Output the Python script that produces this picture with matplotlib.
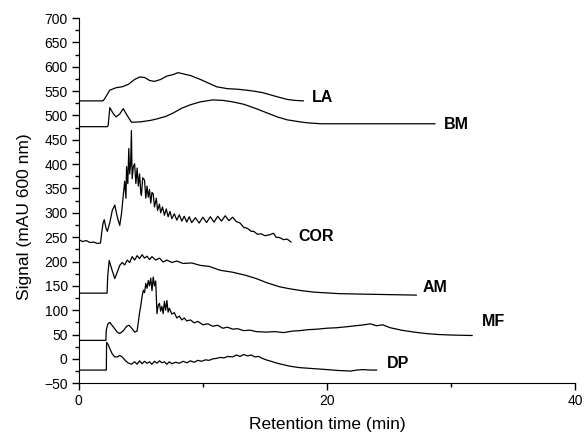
import matplotlib.pyplot as plt
from matplotlib.ticker import MultipleLocator

plt.rcParams['font.family'] = ['Liberation Sans', 'DejaVu Sans']

# ---- chromatogram traces (retention time in min, signal in mAU) ----
la_t = [0, 1.95, 2.1, 2.5, 3.0, 3.5, 4.0, 4.5, 4.9, 5.3, 5.7, 6.1, 6.6, 7.1, 7.6, 8.0,
        8.5, 9.0, 9.8, 10.5, 11.1, 12.0, 12.8, 13.5, 14.1, 14.8, 15.5, 16.2, 16.8, 17.4, 18.1]
la_s = [530, 530, 535, 552, 557, 559, 564, 574, 579, 578, 572, 570, 574, 581, 584, 588,
        585, 582, 574, 566, 559, 555, 554, 552, 550, 547, 542, 537, 533, 531, 530]

bm_t = [0, 2.3, 2.37, 2.5, 2.75, 3.0, 3.3, 3.58, 3.9, 4.25, 5.0, 5.8, 6.3, 7.0, 7.6, 8.3,
        9.0, 9.8, 10.8, 11.6, 12.4, 13.3, 14.3, 15.2, 16.0, 16.8, 17.8, 18.4, 19.5, 21, 24, 26.5, 28.7]
bm_s = [477, 477, 480, 516, 505, 497, 503, 514, 500, 486, 487, 490, 493, 498, 505, 515,
        522, 528, 532, 531, 528, 523, 514, 505, 497, 491, 487, 485, 483, 483, 483, 483, 483]

cor_t = [0, 0.3, 0.6, 0.9, 1.2, 1.5, 1.75, 1.85, 1.95, 2.05, 2.2, 2.3, 2.5, 2.7, 2.9, 3.1,
         3.3, 3.45, 3.6, 3.7, 3.8, 3.85, 3.95, 4.03, 4.1, 4.18, 4.24, 4.3, 4.4, 4.5, 4.6, 4.7,
         4.8, 4.9, 5.0, 5.05, 5.15, 5.3, 5.4, 5.5, 5.6, 5.7, 5.8, 5.9, 6.0, 6.1, 6.25, 6.35,
         6.5, 6.6, 6.75, 6.9, 7.05, 7.2, 7.35, 7.5, 7.7, 7.9, 8.1, 8.3, 8.5, 8.7, 8.9, 9.1,
         9.4, 9.7, 10.0, 10.3, 10.6, 10.9, 11.2, 11.5, 11.8, 12.1, 12.4, 12.7, 13.0, 13.3,
         13.6, 13.9, 14.1, 14.4, 14.7, 15.0, 15.4, 15.7, 15.9, 16.2, 16.5, 16.8, 17.1]
cor_s = [245, 241, 243, 239, 240, 237, 238, 260, 278, 286, 268, 262, 280, 305, 316, 292,
         274, 300, 340, 365, 330, 395, 360, 432, 380, 400, 469, 370, 395, 401, 360, 392,
         355, 380, 340, 336, 372, 367, 330, 355, 332, 348, 320, 342, 339, 312, 330, 305,
         318, 300, 312, 295, 308, 292, 303, 288, 298, 285, 296, 283, 293, 281, 292, 280,
         290, 279, 291, 280, 292, 281, 293, 283, 294, 284, 291, 282, 279, 270,
         268, 262, 262, 256, 257, 253, 255, 258, 250, 249, 245, 246, 240]

am_t = [0, 2.28, 2.33, 2.45, 2.65, 2.9, 3.1, 3.3, 3.5, 3.7, 3.9, 4.1, 4.3, 4.5, 4.7, 4.9,
        5.1, 5.3, 5.5, 5.7, 5.9, 6.2, 6.5, 6.8, 7.1, 7.5, 7.9, 8.4, 9.1, 9.8, 10.5, 11.4,
        12.4, 13.4, 14.3, 15.2, 16.2, 17.0, 18.0, 19.0, 21.0, 22.9, 25.0, 27.2]
am_s = [135, 135, 170, 202, 185, 165, 178, 192, 198, 193, 203, 198, 210, 203, 212, 206,
        214, 207, 211, 204, 210, 203, 207, 199, 203, 198, 201, 196, 197, 192, 190, 182,
        178, 172, 165, 156, 148, 144, 140, 137, 134, 133, 132, 131]

mf_t = [0, 2.18, 2.22, 2.35, 2.5, 2.8, 3.1, 3.3, 3.6, 3.85, 4.05, 4.3, 4.5, 4.7, 4.9, 5.0,
        5.1, 5.2, 5.3, 5.4, 5.5, 5.6, 5.7, 5.8, 5.9, 6.0, 6.1, 6.2, 6.3, 6.4, 6.5, 6.6,
        6.7, 6.8, 6.9, 7.0, 7.1, 7.2, 7.3, 7.5, 7.7, 7.9, 8.1, 8.3, 8.5, 8.7, 9.0, 9.3,
        9.6, 10.0, 10.4, 10.8, 11.2, 11.6, 12.0, 12.4, 12.8, 13.3, 13.8, 14.3, 15.1, 15.8,
        16.5, 17.2, 17.8, 18.5, 19.2, 20.0, 20.8, 21.6, 22.3, 23.0, 23.5, 24.0, 24.5, 25.1,
        26.0, 27.0, 28.0, 29.0, 30.0, 31.7]
mf_s = [38, 38, 60, 72, 75, 65, 55, 52, 58, 67, 69, 62, 55, 57, 95, 110,
        128, 141, 136, 155, 145, 161, 150, 166, 140, 168, 150, 160, 93, 110, 114, 98,
        108, 93, 118, 100, 120, 96, 104, 92, 95, 84, 88, 80, 84, 78, 80, 74,
        77, 70, 72, 67, 69, 63, 65, 61, 62, 58, 59, 56, 55, 56,
        54, 57, 58, 60, 61, 63, 64, 66, 68, 70, 72, 68, 70, 64,
        59, 55, 52, 50, 49, 48]

dp_t = [0, 2.22, 2.24, 2.35, 2.5, 2.7, 2.9, 3.1, 3.3, 3.5, 3.7, 3.95, 4.25, 4.5, 4.7, 4.9,
        5.1, 5.3, 5.5, 5.7, 5.9, 6.1, 6.3, 6.5, 6.7, 6.9, 7.1, 7.3, 7.5, 7.8, 8.1, 8.4,
        8.7, 9.0, 9.3, 9.6, 9.9, 10.2, 10.5, 10.8, 11.1, 11.4, 11.7, 12.0, 12.4, 12.7, 13.0,
        13.3, 13.6, 13.9, 14.2, 14.5, 14.8, 15.1, 15.5, 16.0, 16.5, 17.0, 17.8, 18.9, 20.0,
        21.0, 21.9, 22.4, 22.9, 23.5, 24.0]
dp_s = [-23, -23, 34, 30, 21, 10, 4, 4, 7, 4, -2, -8, -11, -6, -11, -4,
        -10, -5, -9, -6, -11, -5, -9, -4, -8, -6, -11, -6, -10, -7, -9, -5,
        -8, -4, -7, -3, -5, -2, -3, 0, 1, 3, 2, 5, 4, 8, 5,
        9, 6, 8, 4, 5, 1, -2, -5, -9, -12, -15, -18, -20, -22,
        -24, -25, -23, -22, -23, -23]

names = ['LA', 'BM', 'COR', 'AM', 'MF', 'DP']
label_x = [18.8, 29.4, 17.7, 27.7, 32.5, 24.8]
label_y = [537, 482, 252, 147, 76, -10]

traces = [(la_t, la_s), (bm_t, bm_s), (cor_t, cor_s), (am_t, am_s), (mf_t, mf_s), (dp_t, dp_s)]

fig = plt.figure(figsize=(5.88, 4.42), dpi=100)
ax = fig.add_axes([0.134, 0.133, 0.844, 0.826])

for (t, s) in traces:
    ax.plot(t, s, color='black', linewidth=0.9)

for n, lx, ly in zip(names, label_x, label_y):
    ax.text(lx, ly, n, fontsize=11.5, fontweight='bold', ha='left', va='center')

ax.set_xlim(0, 40)
ax.set_ylim(-50, 700)
ax.xaxis.set_major_locator(MultipleLocator(20))
ax.xaxis.set_minor_locator(MultipleLocator(10))
ax.yaxis.set_major_locator(MultipleLocator(50))
ax.yaxis.set_minor_locator(MultipleLocator(25))
ax.tick_params(which='major', direction='out', length=5, width=1, labelsize=10, pad=3)
ax.tick_params(which='minor', direction='out', length=3, width=1)
ax.spines['top'].set_visible(False)
ax.spines['right'].set_visible(False)

ax.set_xlabel('Retention time (min)', fontsize=12.5, labelpad=6)
ax.set_ylabel('Signal (mAU 600 nm)', fontsize=12.5)
ax.yaxis.set_label_coords(-0.095, 0.457)

fig.savefig('out.png', dpi=100)
